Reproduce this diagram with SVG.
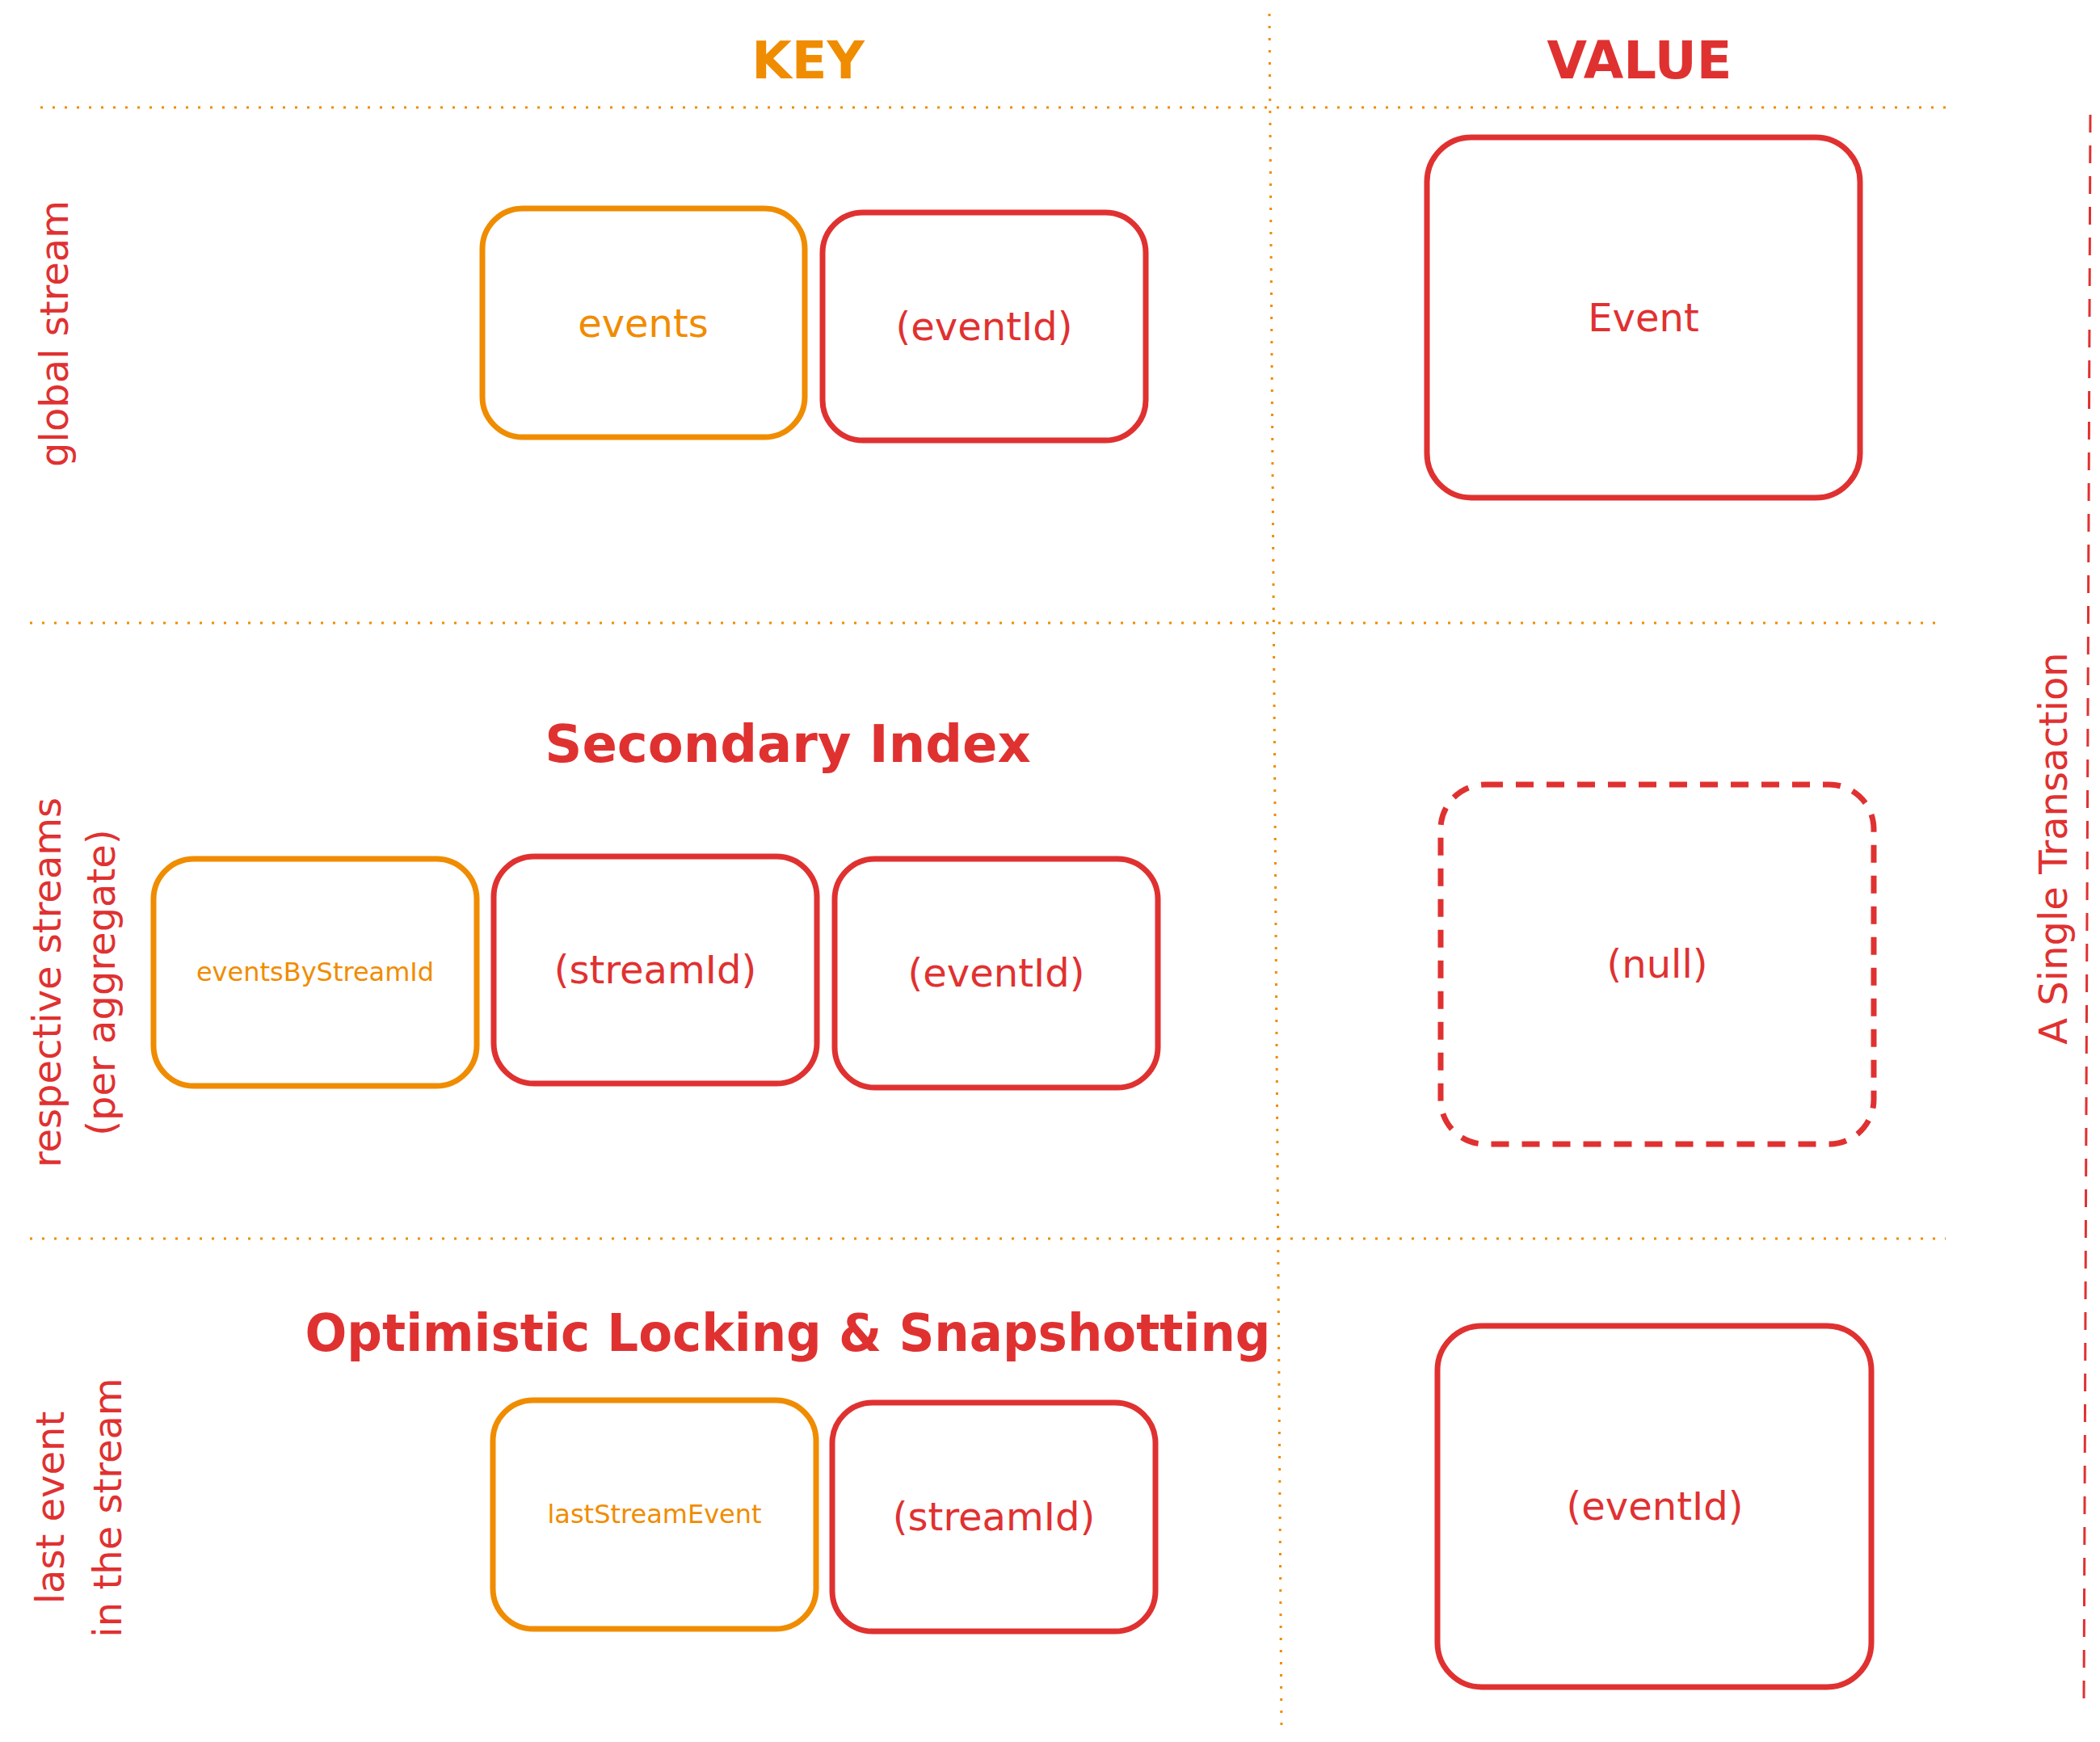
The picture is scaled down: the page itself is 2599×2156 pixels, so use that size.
<svg xmlns="http://www.w3.org/2000/svg" width="2599" height="2156" viewBox="0 0 2599 2156">
<style>
text{font-family:"DejaVu Sans","Liberation Sans",sans-serif;text-anchor:middle;dominant-baseline:central}
.o{fill:#f08c00}.r{fill:#e03131}
.bo{fill:none;stroke:#f08c00;stroke-width:7}
.br{fill:none;stroke:#e03131;stroke-width:7}
.dash{stroke-dasharray:22 16}
.dot{stroke:#f08c00;stroke-width:3;stroke-dasharray:3 12;fill:none}
.lbl{font-size:48px}
.sm{font-size:32px}
.hd{font-size:64px;font-weight:bold}
</style>
<rect width="2599" height="2156" fill="#fff"/>
<g id="connectors">
<path class="dot" d="M50 133H2416M37 771H2399M37 1533H2408M1571 17L1586 2141"/>
<path d="M2587 142L2579 2108" stroke="#e03131" stroke-width="3" stroke-dasharray="22 16" fill="none"/>
</g>
<g id="headers">
<text class="o hd" x="1000" y="75">KEY</text>
<text class="r hd" x="2029" y="75">VALUE</text>
<text class="r hd" x="975" y="921">Secondary Index</text>
<text class="r hd" x="975" y="1650" textLength="1195" lengthAdjust="spacingAndGlyphs">Optimistic Locking &amp; Snapshotting</text>
<text class="r lbl" transform="translate(2541 1050) rotate(-90)">A Single Transaction</text>
<text class="r lbl" transform="translate(67 413) rotate(-90)">global stream</text>
<text class="r lbl" transform="translate(58 1216) rotate(-90)">respective streams</text>
<text class="r lbl" transform="translate(125 1216) rotate(-90)">(per aggregate)</text>
<text class="r lbl" transform="translate(62 1866) rotate(-90)">last event</text>
<text class="r lbl" transform="translate(133 1866) rotate(-90)">in the stream</text>
</g>
<g id="n1"><rect class="bo" x="597" y="258" width="399" height="283" rx="50"/><text class="o lbl" x="796" y="400">events</text></g>
<g id="n2"><rect class="br" x="1018" y="263" width="400" height="282" rx="50"/><text class="r lbl" x="1218" y="404">(eventId)</text></g>
<g id="n3"><rect class="br" x="1766" y="170" width="536" height="446" rx="55"/><text class="r lbl" x="2034" y="393">Event</text></g>
<g id="n4"><rect class="bo" x="190" y="1063" width="400" height="281" rx="50"/><text class="o sm" x="390" y="1203">eventsByStreamId</text></g>
<g id="n5"><rect class="br" x="611" y="1060" width="400" height="281" rx="50"/><text class="r lbl" x="811" y="1200">(streamId)</text></g>
<g id="n6"><rect class="br" x="1033" y="1063" width="400" height="283" rx="50"/><text class="r lbl" x="1233" y="1204">(eventId)</text></g>
<g id="n7"><rect class="br dash" x="1783" y="971" width="536" height="445" rx="55"/><text class="r lbl" x="2051" y="1193">(null)</text></g>
<g id="n8"><rect class="bo" x="610" y="1733" width="400" height="283" rx="50"/><text class="o sm" x="810" y="1874">lastStreamEvent</text></g>
<g id="n9"><rect class="br" x="1030" y="1736" width="400" height="283" rx="50"/><text class="r lbl" x="1230" y="1877">(streamId)</text></g>
<g id="n10"><rect class="br" x="1779" y="1641" width="537" height="447" rx="55"/><text class="r lbl" x="2048" y="1864">(eventId)</text></g>
</svg>
